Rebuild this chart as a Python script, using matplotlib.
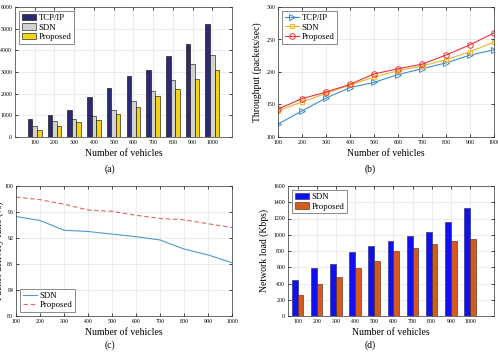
import matplotlib
matplotlib.use("Agg")
import matplotlib.pyplot as plt
import numpy as np

plt.rcParams["font.family"] = ["Liberation Serif", "DejaVu Serif"]

vehicles = [100, 200, 300, 400, 500, 600, 700, 800, 900, 1000]
tick_labels = [str(v) for v in vehicles]

# (a) bar chart, y-axis unlabeled in the crop
a_tcp = [850, 1020, 1230, 1850, 2250, 2800, 3100, 3750, 4280, 5200]
a_sdn = [520, 720, 850, 960, 1230, 1640, 2100, 2650, 3350, 3800]
a_prop = [310, 510, 670, 800, 1070, 1400, 1870, 2230, 2680, 3100]

# (b) throughput
b_tcp = [120, 140, 160, 176, 184, 196, 205, 214, 226, 234]
b_sdn = [140, 154, 167, 180, 192, 202, 209, 219, 231, 246]
b_prop = [143, 159, 169, 181, 197, 205, 212, 226, 242, 260]

# (c) packet delivery ratio
c_sdn = [95.3, 94.7, 93.2, 93.0, 92.6, 92.2, 91.7, 90.3, 89.4, 88.2]
c_prop = [98.3, 97.9, 97.2, 96.3, 96.1, 95.5, 95.0, 94.8, 94.2, 93.6]

# (d) network load
d_sdn = [440, 590, 640, 785, 860, 920, 990, 1030, 1160, 1330]
d_prop = [260, 395, 480, 595, 675, 795, 835, 890, 925, 950]

W, H = 498, 352
fig = plt.figure(figsize=(W / 100, H / 100), dpi=100)


def rect(x0, y0, x1, y1):
    return [x0 / W, 1 - y1 / H, (x1 - x0) / W, (y1 - y0) / H]


TICK = 4.2
LAB = 7
LEG = 6.3


def style(ax):
    ax.tick_params(direction="in", top=True, right=True, labelsize=TICK,
                   length=2, width=0.5, pad=2)
    ax.grid(True, color="#e4e4e4", linewidth=0.5)
    ax.set_axisbelow(True)
    for s in ax.spines.values():
        s.set_linewidth(0.5)
        s.set_color("#333333")


def legend(ax, loc):
    leg = ax.legend(loc=loc, fontsize=LEG, frameon=True, fancybox=False, edgecolor="#333333",
                    borderpad=0.3, handlelength=1.6, handletextpad=0.3, labelspacing=0.15,
                    borderaxespad=0.5)
    leg.get_frame().set_linewidth(0.5)


# ---- (a)
ax = fig.add_axes(rect(15, 7, 232, 137))
pos = np.arange(1, 11)
w = 0.23
ax.bar(pos - w, a_tcp, w, color="#2c2a72", edgecolor="black", linewidth=0.4, label="TCP/IP")
ax.bar(pos, a_sdn, w, color="#d2d2d2", edgecolor="black", linewidth=0.4, label="SDN")
ax.bar(pos + w, a_prop, w, color="#f2d31a", edgecolor="black", linewidth=0.4, label="Proposed")
ax.set_xlim(0, 11)
ax.set_ylim(0, 6000)
ax.set_xticks(pos)
ax.set_xticklabels(tick_labels)
style(ax)
ax.set_xlabel("Number of vehicles", fontsize=LAB, labelpad=3)
legend(ax, "upper left")
fig.text(110 / W, 1 - 169 / H, "(a)", fontsize=LAB, ha="center", va="center")

# ---- (b)
ax = fig.add_axes(rect(278, 7, 494, 137))
ax.plot(vehicles, b_tcp, color="#3a8fd0", marker=">", mfc="none", ms=4, lw=0.8, mew=0.7, label="TCP/IP")
ax.plot(vehicles, b_sdn, color="#efb630", marker="s", mfc="none", ms=3, lw=0.8, mew=0.7, label="SDN")
ax.plot(vehicles, b_prop, color="#e8323c", marker="o", mfc="none", ms=4, lw=0.8, mew=0.7, label="Proposed")
ax.set_xlim(100, 1000)
ax.set_ylim(100, 300)
ax.set_xticks(vehicles)
ax.set_yticks([100, 150, 200, 250, 300])
style(ax)
ax.set_xlabel("Number of vehicles", fontsize=LAB, labelpad=3)
ax.set_ylabel("Throughput (packets/sec)", fontsize=LAB, labelpad=3)
legend(ax, "upper left")
fig.text(370 / W, 1 - 169 / H, "(b)", fontsize=LAB, ha="center", va="center")

# ---- (c)
ax = fig.add_axes(rect(16, 186, 232, 316))
ax.plot(vehicles, c_sdn, color="#4d9ccc", lw=0.8, label="SDN")
ax.plot(vehicles, c_prop, color="#e06464", lw=0.8, ls=(0, (4, 2.5)), label="Proposed")
ax.set_xlim(100, 1000)
ax.set_ylim(80, 100)
ax.set_xticks(vehicles)
ax.set_yticks([80, 84, 88, 92, 96, 100])
style(ax)
ax.set_xlabel("Number of vehicles", fontsize=LAB, labelpad=3)
ax.set_ylabel("Packet delivery ratio (%)", fontsize=LAB, labelpad=0.5)
legend(ax, "lower left")
fig.text(110 / W, 1 - 345 / H, "(c)", fontsize=LAB, ha="center", va="center")

# ---- (d)
ax = fig.add_axes(rect(288, 186, 494, 316))
w = 0.3
ax.bar(pos - w / 2, d_sdn, w, color="#1010f0", edgecolor="#202060", linewidth=0.4, label="SDN")
ax.bar(pos + w / 2, d_prop, w, color="#d45a22", edgecolor="#402010", linewidth=0.4, label="Proposed")
ax.set_xlim(0.5, 11.25)
ax.set_ylim(0, 1600)
ax.set_xticks(pos)
ax.set_xticklabels(tick_labels)
ax.set_yticks(range(0, 1601, 200))
style(ax)
ax.set_xlabel("Number of vehicles", fontsize=LAB, labelpad=3)
ax.set_ylabel("Network load (Kbps)", fontsize=LAB, labelpad=3)
legend(ax, "upper left")
fig.text(370 / W, 1 - 345 / H, "(d)", fontsize=LAB, ha="center", va="center")

fig.savefig("out.png", dpi=100)
